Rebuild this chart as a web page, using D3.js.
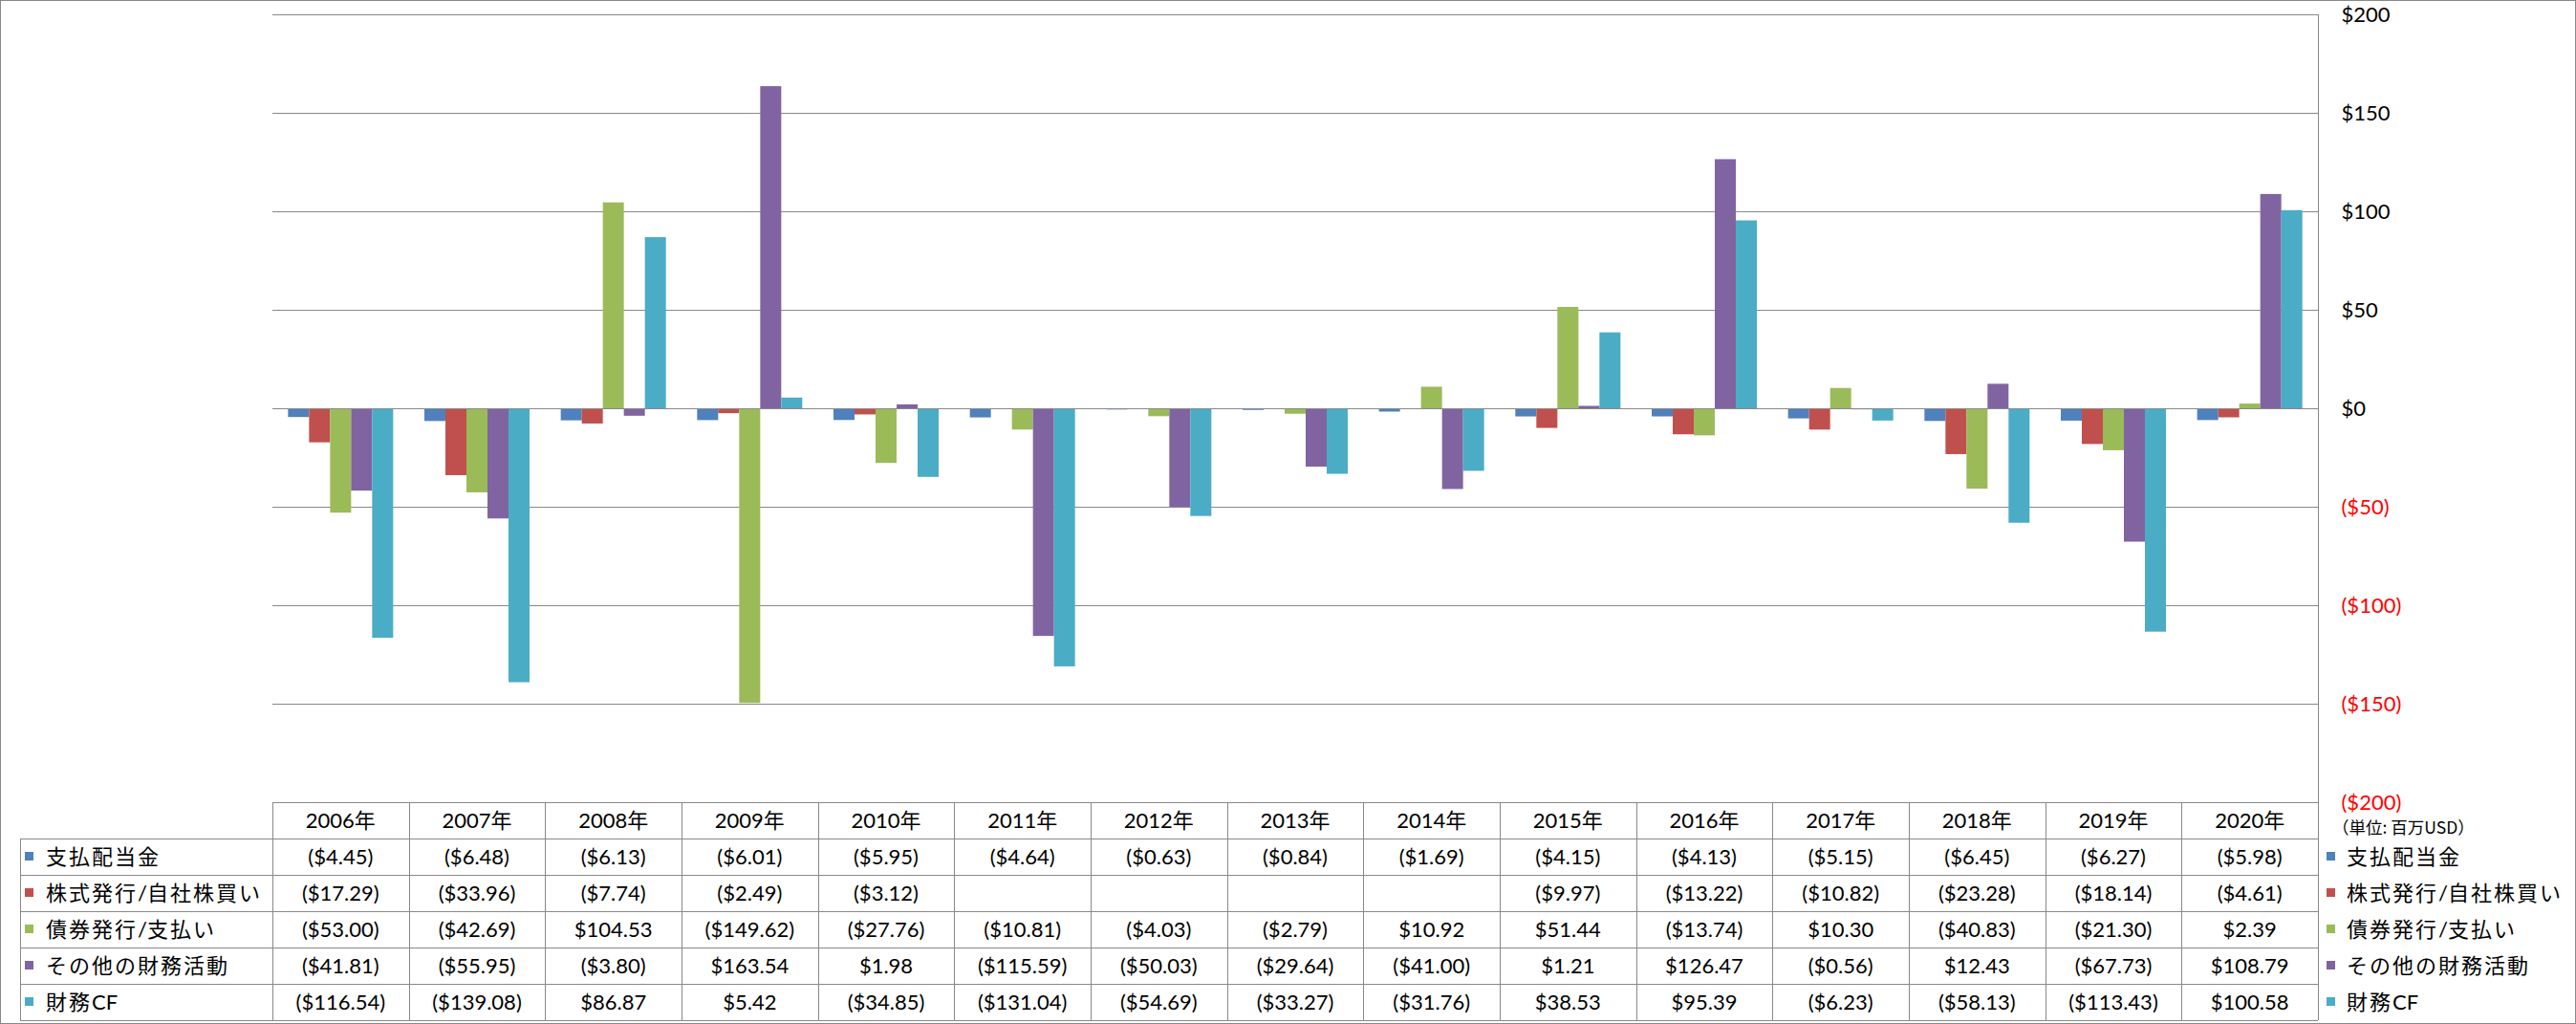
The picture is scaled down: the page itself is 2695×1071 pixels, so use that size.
<!DOCTYPE html>
<html>
<head>
<meta charset="utf-8">
<script src="https://cdn.jsdelivr.net/npm/d3@7"></script>
<style>
  html, body { margin: 0; padding: 0; background: #fff; }
  svg { display: block; }
  .num { font-family: Lato, "Noto Sans CJK JP", sans-serif; font-size: 22px; fill: #000; }
  .cjk { font-family: Lato, "Noto Sans CJK JP", sans-serif; font-size: 22px; fill: #000; }
</style>
</head>
<body>
<svg id="chart" width="2695" height="1071"></svg>
<script>
// ---- data ----
const years = ["2006年","2007年","2008年","2009年","2010年","2011年","2012年","2013年","2014年","2015年","2016年","2017年","2018年","2019年","2020年"];
const seriesNames = ["支払配当金","株式発行/自社株買い","債券発行/支払い","その他の財務活動","財務CF"];
const dividends   = [-4.45,-6.48,-6.13,-6.01,-5.95,-4.64,-0.63,-0.84,-1.69,-4.15,-4.13,-5.15,-6.45,-6.27,-5.98];
const stock       = [-17.29,-33.96,-7.74,-2.49,-3.12,null,null,null,null,-9.97,-13.22,-10.82,-23.28,-18.14,-4.61];
const debt        = [-53.00,-42.69,104.53,-149.62,-27.76,-10.81,-4.03,-2.79,10.92,51.44,-13.74,10.30,-40.83,-21.30,2.39];
const otherFin    = [-41.81,-55.95,-3.80,163.54,1.98,-115.59,-50.03,-29.64,-41.00,1.21,126.47,-0.56,12.43,-67.73,108.79];
const financeCF   = [-116.54,-139.08,86.87,5.42,-34.85,-131.04,-54.69,-33.27,-31.76,38.53,95.39,-6.23,-58.13,-113.43,100.58];
const axisTicks   = [-200,-150,-100,-50,0,50,100,150,200];
const unitLabel   = "（単位: 百万USD）";

const seriesValues = [dividends, stock, debt, otherFin, financeCF];
const colors = ["#4F81BD","#C0504D","#9BBB59","#8064A2","#4BACC6"];

// ---- layout ----
const W = 2695, H = 1071;
const plotL = 285, plotR = 2425, plotT = 15, plotB = 839;
const tableTop = 839, rowH = 38, labelL = 21;
const gridColor = "#898989";

const svg = d3.select("#chart");

// outer border
svg.append("rect").attr("x",0.5).attr("y",0.5).attr("width",W-1).attr("height",H-1)
  .attr("fill","#fff").attr("stroke",gridColor).attr("stroke-width",1);

const x = d3.scaleBand().domain(years).range([plotL, plotR]).padding(0);
const xInner = d3.scaleBand().domain(seriesNames).range([0, x.bandwidth()])
  .paddingInner(0).paddingOuter(0.7425);
const y = d3.scaleLinear().domain([-200, 200]).range([plotB, plotT]);

const fmtAxis = v => v < 0 ? `($${-v})` : `$${v}`;
const fmtVal = v => v == null ? "" : (v < 0 ? `($${(-v).toFixed(2)})` : `$${v.toFixed(2)}`);

// text with CJK characters letter-spaced, Latin runs tight
function addLabel(sel, str) {
  const runs = str.match(/[\u3000-\u9fff\uff00-\uffef]+|[^\u3000-\u9fff\uff00-\uffef]+/g);
  runs.forEach(r => {
    const isCjk = /[\u3000-\u9fff\uff00-\uffef]/.test(r);
    sel.append("tspan").style("letter-spacing", isCjk ? "2px" : "0px").text(r);
  });
}

// gridlines
svg.append("g").selectAll("line").data(axisTicks).join("line")
  .attr("x1", plotL).attr("x2", plotR)
  .attr("y1", d => Math.round(y(d)) + 0.5).attr("y2", d => Math.round(y(d)) + 0.5)
  .attr("stroke", gridColor).attr("stroke-width", 1);

// bars
const groups = svg.append("g").selectAll("g").data(years).join("g")
  .attr("transform", d => `translate(${x(d)},0)`);
groups.selectAll("rect")
  .data((yr, i) => seriesNames.map((s, k) => ({ s, k, v: seriesValues[k][i] })).filter(d => d.v != null))
  .join("rect")
  .attr("x", d => xInner(d.s))
  .attr("width", xInner.bandwidth())
  .attr("y", d => Math.min(y(d.v), y(0)))
  .attr("height", d => Math.abs(y(d.v) - y(0)))
  .attr("fill", d => colors[d.k]);

// zero line on top
svg.append("line").attr("x1", plotL).attr("x2", plotR)
  .attr("y1", Math.round(y(0)) + 0.5).attr("y2", Math.round(y(0)) + 0.5)
  .attr("stroke", gridColor).attr("stroke-width", 1);

// right axis
const axis = d3.axisRight(y).tickValues(axisTicks).tickSize(0).tickPadding(24).tickFormat(fmtAxis);
const ax = svg.append("g").attr("transform", `translate(${plotR + 0.5},0)`).call(axis);
ax.select(".domain").remove();
ax.selectAll("text")
  .attr("class", "num")
  .style("fill", d => d < 0 ? "#FF0000" : "#000");

// right vertical line through plot and table
svg.append("line").attr("x1", plotR + 0.5).attr("x2", plotR + 0.5)
  .attr("y1", plotT).attr("y2", tableTop + rowH * 6)
  .attr("stroke", gridColor);

// unit label
svg.append("text").attr("x", 2440).attr("y", 866).attr("dy", "0.35em")
  .style("font-family", "'Noto Sans CJK JP', sans-serif").style("font-size", "17.5px")
  .text(unitLabel);

// ---- data table ----
const tbl = svg.append("g");
const tableBottom = tableTop + rowH * 6;
tbl.append("line").attr("x1", plotL).attr("x2", plotR).attr("y1", tableTop + 0.5).attr("y2", tableTop + 0.5).attr("stroke", gridColor);
d3.range(1, 7).forEach(r => {
  tbl.append("line").attr("x1", labelL).attr("x2", plotR)
    .attr("y1", tableTop + r * rowH + 0.5).attr("y2", tableTop + r * rowH + 0.5).attr("stroke", gridColor);
});
tbl.append("line").attr("x1", labelL + 0.5).attr("x2", labelL + 0.5)
  .attr("y1", tableTop + rowH).attr("y2", tableBottom).attr("stroke", gridColor);
tbl.selectAll("line.col").data(years).join("line").attr("class", "col")
  .attr("x1", d => Math.round(x(d)) + 0.5).attr("x2", d => Math.round(x(d)) + 0.5)
  .attr("y1", tableTop).attr("y2", tableBottom).attr("stroke", gridColor);

// header text
tbl.selectAll("text.hdr").data(years).join("text").attr("class", "num hdr")
  .attr("x", d => x(d) + x.bandwidth() / 2).attr("y", tableTop + rowH / 2).attr("dy", "0.35em")
  .attr("text-anchor", "middle").text(d => d);

// rows
seriesNames.forEach((s, k) => {
  const cy = tableTop + rowH * (k + 1) + rowH / 2;
  tbl.append("rect").attr("x", 26).attr("y", cy - 5).attr("width", 9).attr("height", 9).attr("fill", colors[k]);
  addLabel(tbl.append("text").attr("class", "cjk").attr("x", 48).attr("y", cy).attr("dy", "0.36em"), s);
  tbl.selectAll(`text.v${k}`).data(years).join("text").attr("class", `num v${k}`)
    .attr("x", d => x(d) + x.bandwidth() / 2).attr("y", cy).attr("dy", "0.35em")
    .attr("text-anchor", "middle").text((d, i) => fmtVal(seriesValues[k][i]));
  svg.append("rect").attr("x", 2434).attr("y", cy - 5).attr("width", 9).attr("height", 9).attr("fill", colors[k]);
  addLabel(svg.append("text").attr("class", "cjk").attr("x", 2455).attr("y", cy).attr("dy", "0.36em"), s);
});
</script>
</body>
</html>
